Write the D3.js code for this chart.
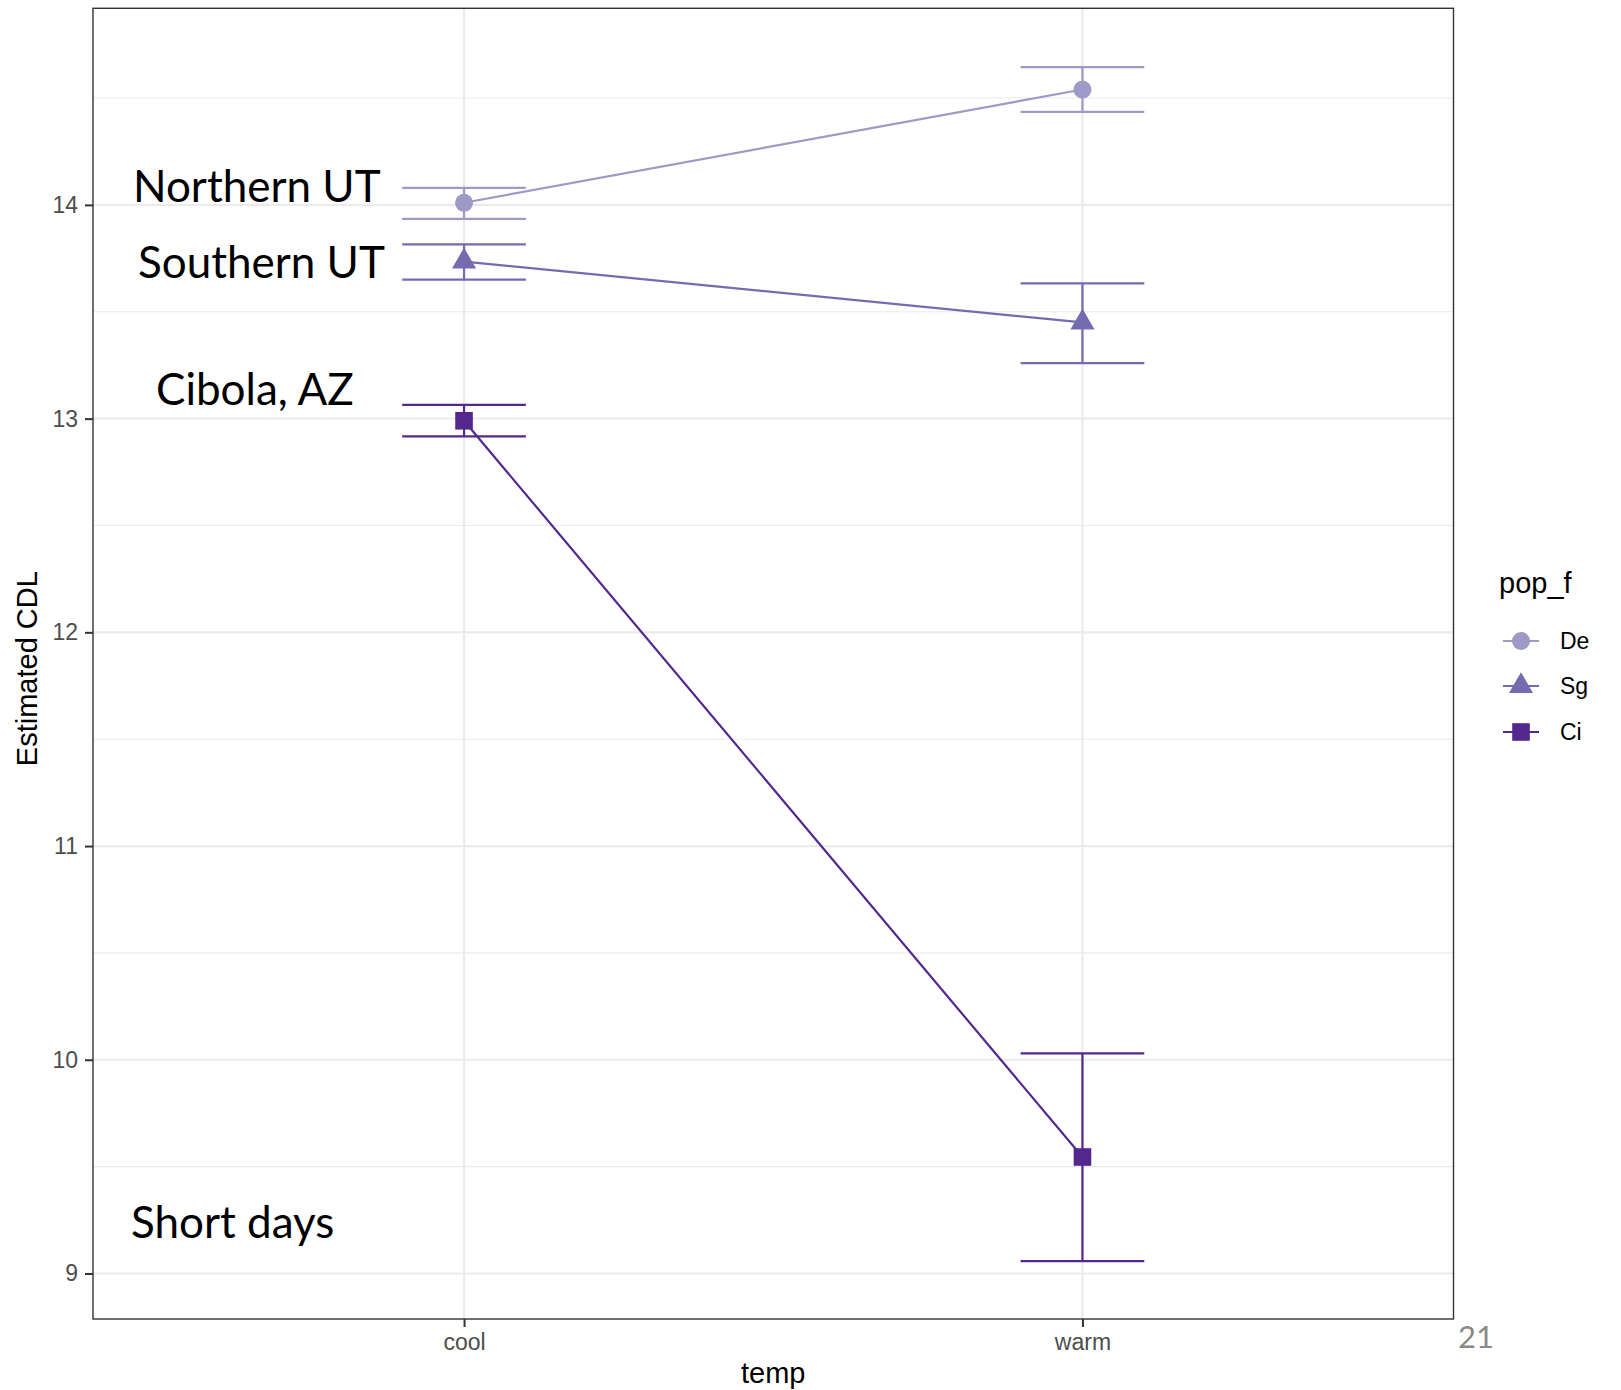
<!DOCTYPE html>
<html>
<head>
<meta charset="utf-8">
<script src="https://cdnjs.cloudflare.com/ajax/libs/d3/7.8.5/d3.min.js"></script>
<style>
  body { margin: 0; background: #fff; }
  svg { display: block; }
</style>
</head>
<body>
<script>
// categories
const temps = ["cool", "warm"];
const pops = ["De", "Sg", "Ci"];
const popColors = ["#9e9ac8", "#756bb1", "#54278f"];
const popShapes = [d3.symbolCircle, d3.symbolTriangle, d3.symbolSquare];

// estimated CDL per population, cool / warm
const deMean = [14.01, 14.54];
const deLower = [13.935, 14.435];
const deUpper = [14.08, 14.645];

const sgMean = [13.735, 13.45];
const sgLower = [13.65, 13.26];
const sgUpper = [13.815, 13.633];

const ciMean = [12.99, 9.545];
const ciLower = [12.917, 9.058];
const ciUpper = [13.064, 10.03];

const yTicks = [9, 10, 11, 12, 13, 14];
const yMinor = [9.5, 10.5, 11.5, 12.5, 13.5, 14.5];

const notes = [
  {text: "Northern UT", x: 133, y: 202},
  {text: "Southern UT", x: 138, y: 278},
  {text: "Cibola, AZ", x: 156, y: 405},
  {text: "Short days", x: 131, y: 1238}
];

const series = [
  {pop: pops[0], mean: deMean, lo: deLower, hi: deUpper},
  {pop: pops[1], mean: sgMean, lo: sgLower, hi: sgUpper},
  {pop: pops[2], mean: ciMean, lo: ciLower, hi: ciUpper}
];

const W = 1621, H = 1390;
const panel = {left: 93, right: 1453.5, top: 8.3, bottom: 1319};
const ggFont = "'Liberation Sans', Arial, Helvetica, sans-serif";

const svg = d3.select("body").append("svg")
  .attr("width", W)
  .attr("height", H);

const x = d3.scalePoint()
  .domain(temps)
  .range([panel.left, panel.right])
  .padding(0.6);

const y = d3.scaleLinear()
  .domain([8.787, 14.92])
  .range([panel.bottom, panel.top]);

const color = d3.scaleOrdinal().domain(pops).range(popColors);
const shape = d3.scaleOrdinal().domain(pops).range(popShapes);
const symSize = {De: 255, Sg: 250, Ci: 310};

// grid
const grid = svg.append("g");
grid.selectAll(".minor").data(yMinor).enter().append("line")
  .attr("x1", panel.left).attr("x2", panel.right)
  .attr("y1", d => y(d)).attr("y2", d => y(d))
  .attr("stroke", "#ebebeb").attr("stroke-width", 1.1);
grid.selectAll(".major").data(yTicks).enter().append("line")
  .attr("x1", panel.left).attr("x2", panel.right)
  .attr("y1", d => y(d)).attr("y2", d => y(d))
  .attr("stroke", "#ebebeb").attr("stroke-width", 2.2);
grid.selectAll(".vmajor").data(temps).enter().append("line")
  .attr("x1", d => x(d)).attr("x2", d => x(d))
  .attr("y1", panel.top).attr("y2", panel.bottom)
  .attr("stroke", "#ebebeb").attr("stroke-width", 2.2);

// connecting lines
const line = d3.line()
  .x((d, i) => x(temps[i]))
  .y(d => y(d));

svg.selectAll(".conn").data(series).enter().append("path")
  .attr("d", d => line(d.mean))
  .attr("fill", "none")
  .attr("stroke", d => color(d.pop))
  .attr("stroke-width", 2.2);

// error bars
const halfW = x.step() * 0.1;
series.forEach(s => {
  const g = svg.append("g").attr("stroke", color(s.pop)).attr("stroke-width", 2.2);
  temps.forEach((t, i) => {
    g.append("line").attr("x1", x(t)).attr("x2", x(t))
      .attr("y1", y(s.lo[i])).attr("y2", y(s.hi[i]));
    g.append("line").attr("x1", x(t) - halfW).attr("x2", x(t) + halfW)
      .attr("y1", y(s.lo[i])).attr("y2", y(s.lo[i]));
    g.append("line").attr("x1", x(t) - halfW).attr("x2", x(t) + halfW)
      .attr("y1", y(s.hi[i])).attr("y2", y(s.hi[i]));
  });
});

// points
series.forEach(s => {
  svg.selectAll(null).data(s.mean).enter().append("path")
    .attr("d", d3.symbol().type(shape(s.pop)).size(symSize[s.pop]))
    .attr("transform", (d, i) => `translate(${x(temps[i])},${y(d)})`)
    .attr("fill", color(s.pop));
});

// panel border
svg.append("rect")
  .attr("x", panel.left).attr("y", panel.top)
  .attr("width", panel.right - panel.left)
  .attr("height", panel.bottom - panel.top)
  .attr("fill", "none")
  .attr("stroke", "#333")
  .attr("stroke-width", 1.4);

// axes
const yAxis = svg.append("g")
  .attr("transform", `translate(${panel.left},0)`)
  .call(d3.axisLeft(y).tickValues(yTicks).tickFormat(d3.format("d")).tickSize(8).tickPadding(7));
const xAxis = svg.append("g")
  .attr("transform", `translate(0,${panel.bottom})`)
  .call(d3.axisBottom(x).tickSize(8).tickPadding(7));

[yAxis, xAxis].forEach(a => {
  a.select(".domain").remove();
  a.selectAll(".tick line").attr("stroke", "#333").attr("stroke-width", 2);
  a.selectAll(".tick text")
    .attr("fill", "#4d4d4d")
    .style("font-family", ggFont)
    .style("font-size", "23px");
});

// axis titles
svg.append("text")
  .attr("x", (panel.left + panel.right) / 2)
  .attr("y", 1383)
  .attr("text-anchor", "middle")
  .style("font-family", ggFont)
  .style("font-size", "29px")
  .text("temp");

svg.append("text")
  .attr("transform", `translate(37,${(panel.top + panel.bottom) / 2 + 5}) rotate(-90)`)
  .attr("text-anchor", "middle")
  .style("font-family", ggFont)
  .style("font-size", "29px")
  .text("Estimated CDL");

// legend
const legend = svg.append("g");
legend.append("text")
  .attr("x", 1499).attr("y", 593)
  .style("font-family", ggFont)
  .style("font-size", "29px")
  .text("pop_f");

const keyY = [641, 686, 732];
pops.forEach((p, i) => {
  const k = legend.append("g").attr("transform", `translate(1521,${keyY[i]})`);
  k.append("line").attr("x1", -18).attr("x2", 18)
    .attr("stroke", color(p)).attr("stroke-width", 2.2);
  k.append("path")
    .attr("d", d3.symbol().type(shape(p)).size(symSize[p]))
    .attr("fill", color(p));
  k.append("text")
    .attr("x", 39).attr("dy", "0.36em")
    .style("font-family", ggFont)
    .style("font-size", "23px")
    .text(p);
});

// slide annotations
svg.selectAll(".note").data(notes).enter().append("text")
  .attr("x", d => d.x).attr("y", d => d.y)
  .style("font-family", "Lato, 'Open Sans', sans-serif")
  .style("font-size", "44px")
  .attr("fill", "#000")
  .text(d => d.text);

svg.append("text")
  .attr("x", 1458).attr("y", 1348)
  .style("font-family", "Lato, sans-serif")
  .style("font-size", "31px")
  .attr("fill", "#898989")
  .text("21");
</script>
</body>
</html>
